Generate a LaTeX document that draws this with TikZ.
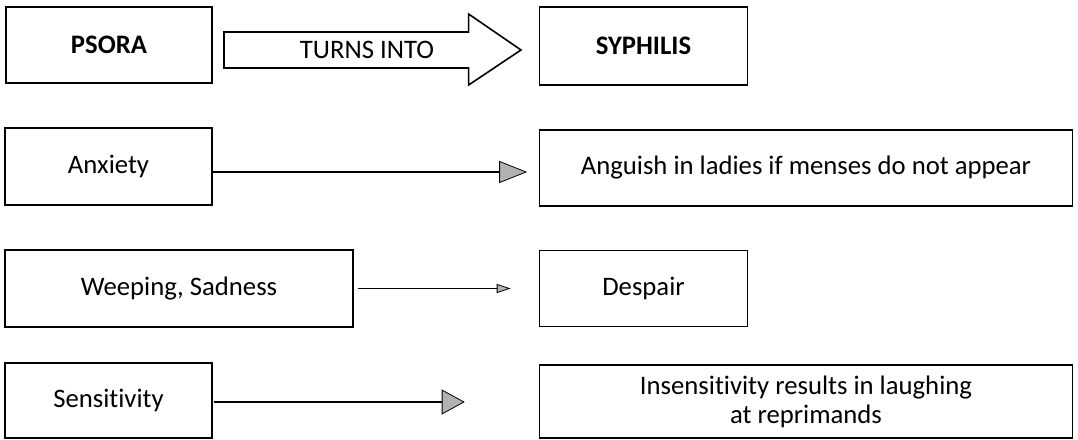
\documentclass[tikz,border=0pt]{standalone}
\usepackage{fontspec}
\setmainfont{Carlito}[Ligatures=NoCommon]
\usetikzlibrary{arrows.meta}

\begin{document}
\begin{tikzpicture}[
  x=1pt, y=-1pt,
  font=\fontsize{26.7}{29}\selectfont,
  box/.style={draw, line width=1.6pt, minimum height=77pt, inner sep=0pt, align=center},
  title/.style={box, font=\fontsize{26.7}{29}\selectfont\bfseries},
  link/.style={line width=1.4pt},
  bigtip/.style={link, -{Triangle[length=28pt, width=22pt, fill=gray!60, line width=0.8pt]}},
  smalltip/.style={link, -{Triangle[length=14pt, width=9pt, fill=gray!60, line width=0.8pt]}},
  midtip/.style={link, -{Triangle[length=23pt, width=25pt, fill=gray!60, line width=0.8pt]}}
]
\useasboundingbox (0,0) rectangle (1078,439);

% top row
\node[title, minimum width=206pt, minimum height=76pt] (psora) at (109,45) {PSORA};
\node[title, minimum width=208pt, minimum height=78pt] (syphilis) at (643.5,46) {SYPHILIS};
\draw[line width=1.6pt] (224,32) -- (468.6,32) -- (468.6,14) -- (521,50) -- (468.6,85) -- (468.6,68) -- (224,68) -- cycle;
\node (turns) at (367,50) {TURNS INTO};

% left column
\node[box, minimum width=207pt] (anxiety) at (108.5,166.5) {Anxiety};
\node[box, minimum width=348pt] (weeping) at (179,288.5) {Weeping, Sadness};
\node[box, minimum width=207pt, minimum height=75pt] (sensitivity) at (108.5,400.5) {Sensitivity};

% right column
\node[box, minimum width=533pt, minimum height=76pt] (anguish) at (806,168) {Anguish in ladies if menses do not appear};
\node[box, minimum width=208pt, minimum height=76pt] (despair) at (643.5,288.5) {Despair};
\node[box, minimum width=533pt, minimum height=73pt] (insens) at (806,401.5) {Insensitivity results in laughing\\at reprimands};

% connectors
\coordinate (anxout) at ([yshift=-5.5pt]anxiety.east);
\coordinate (sensout) at ([yshift=-1.5pt, xshift=1pt]sensitivity.east);
\draw[bigtip] (anxout) -- ([xshift=-11.5pt]anguish.west |- anxout);
\draw[smalltip] ([xshift=4pt]weeping.east) -- ([xshift=-28pt]despair.west);
\draw[midtip] (sensout) -- ([xshift=-74pt]insens.west |- sensout);
\end{tikzpicture}
\end{document}
